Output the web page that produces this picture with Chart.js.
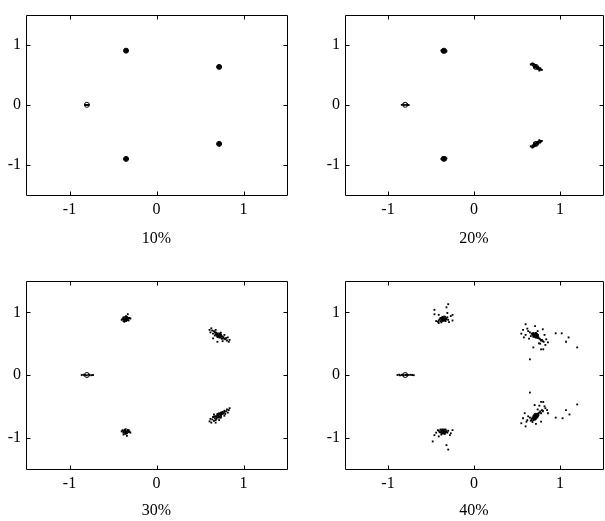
<!DOCTYPE html>
<html>
<head>
<meta charset="utf-8">
<script src="https://cdn.jsdelivr.net/npm/chart.js@4/dist/chart.umd.min.js"></script>
<style>
  body { margin: 0; background: #fff; }
  #wrap { position: relative; width: 605px; height: 521px; overflow: hidden; background: #fff; }
  canvas { position: absolute; }
</style>
</head>
<body>
<div id="wrap">
  <canvas id="c10" width="300" height="260" style="left:0;top:0"></canvas>
  <canvas id="c20" width="308" height="260" style="left:300px;top:0"></canvas>
  <canvas id="c30" width="300" height="261" style="left:0;top:260px"></canvas>
  <canvas id="c40" width="308" height="261" style="left:300px;top:260px"></canvas>
</div>
<script>
const FONT = { family: "'Liberation Serif', 'Times New Roman', serif", size: 16 };
const AXIS_MIN = -1.5;
const AXIS_MAX = 1.5;
const TICK_VALUES = [-1, 0, 1];
const TITLES = ['10%', '20%', '30%', '40%'];

// ideal constellation points
const idealX = [-0.8, -0.35, -0.35, 0.72, 0.72];
const idealY = [0, 0.9, -0.9, 0.63, -0.65];

// received samples, [x, y]
const samples10 = [
    [-0.82, 0], [-0.81, 0], [-0.80, 0], [-0.79, 0], [-0.78, 0],
    [-0.35, 0.9], [-0.37, 0.9], [-0.33, 0.9], [-0.35, 0.875], [-0.35, 0.925],
    [-0.362, 0.885], [-0.338, 0.885], [-0.362, 0.915], [-0.338, 0.915],
    [-0.35, -0.9], [-0.37, -0.9], [-0.33, -0.9], [-0.35, -0.875], [-0.35, -0.925],
    [-0.362, -0.885], [-0.338, -0.885], [-0.362, -0.915], [-0.338, -0.915],
    [0.72, 0.63], [0.70, 0.63], [0.74, 0.63], [0.72, 0.605], [0.72, 0.655],
    [0.708, 0.615], [0.732, 0.615], [0.708, 0.645], [0.732, 0.645],
    [0.72, -0.65], [0.70, -0.65], [0.74, -0.65], [0.72, -0.625], [0.72, -0.675],
    [0.708, -0.635], [0.732, -0.635], [0.708, -0.665], [0.732, -0.665]
];

const samples20 = [
    [-0.84, 0], [-0.82, 0.005], [-0.81, -0.005], [-0.79, 0], [-0.78, 0.005], [-0.77, 0], [-0.76, -0.003],
    [-0.38, 0.9], [-0.37, 0.88], [-0.37, 0.91], [-0.36, 0.87], [-0.36, 0.9], [-0.36, 0.92], [-0.35, 0.88], [-0.35, 0.91],
    [-0.34, 0.87], [-0.34, 0.9], [-0.34, 0.92], [-0.33, 0.88], [-0.33, 0.91], [-0.32, 0.89], [-0.35, 0.89], [-0.37, 0.89],
    [-0.38, -0.9], [-0.37, -0.88], [-0.37, -0.91], [-0.36, -0.87], [-0.36, -0.9], [-0.36, -0.92], [-0.35, -0.88], [-0.35, -0.91],
    [-0.34, -0.87], [-0.34, -0.9], [-0.34, -0.92], [-0.33, -0.88], [-0.33, -0.91], [-0.32, -0.89], [-0.35, -0.89], [-0.37, -0.89],
    [0.67, 0.68], [0.68, 0.66], [0.68, 0.69], [0.69, 0.65], [0.69, 0.68], [0.70, 0.64], [0.70, 0.67], [0.71, 0.63], [0.71, 0.66],
    [0.72, 0.62], [0.72, 0.65], [0.73, 0.61], [0.73, 0.64], [0.74, 0.60], [0.74, 0.63], [0.75, 0.59], [0.75, 0.62], [0.76, 0.60],
    [0.77, 0.58], [0.77, 0.61], [0.78, 0.59], [0.70, 0.62], [0.72, 0.63], [0.74, 0.61], [0.76, 0.57], [0.66, 0.67], [0.79, 0.58],
    [0.67, -0.70], [0.68, -0.68], [0.68, -0.71], [0.69, -0.67], [0.69, -0.70], [0.70, -0.66], [0.70, -0.69], [0.71, -0.65], [0.71, -0.68],
    [0.72, -0.64], [0.72, -0.67], [0.73, -0.63], [0.73, -0.66], [0.74, -0.62], [0.74, -0.65], [0.75, -0.61], [0.75, -0.64], [0.76, -0.62],
    [0.77, -0.60], [0.77, -0.63], [0.78, -0.61], [0.70, -0.64], [0.72, -0.65], [0.74, -0.63], [0.76, -0.59], [0.66, -0.69], [0.79, -0.60]
];

const samples30 = [
    [-0.86, 0], [-0.84, 0.005], [-0.83, -0.005], [-0.82, 0], [-0.80, -0.005], [-0.78, 0.005], [-0.77, 0], [-0.75, -0.004], [-0.73, 0],
    [-0.40, 0.88], [-0.39, 0.9], [-0.38, 0.86], [-0.38, 0.92], [-0.37, 0.89], [-0.36, 0.91], [-0.36, 0.87], [-0.35, 0.9], [-0.34, 0.88],
    [-0.34, 0.92], [-0.33, 0.9], [-0.32, 0.87], [-0.31, 0.91], [-0.30, 0.9], [-0.37, 0.85], [-0.33, 0.97], [-0.35, 0.94],
    [-0.38, 0.89], [-0.36, 0.89], [-0.34, 0.9], [-0.32, 0.91], [-0.35, 0.86],
    [-0.40, -0.9], [-0.39, -0.88], [-0.38, -0.92], [-0.37, -0.89], [-0.36, -0.91], [-0.36, -0.87], [-0.35, -0.9], [-0.34, -0.92],
    [-0.33, -0.89], [-0.32, -0.91], [-0.31, -0.9], [-0.30, -0.92], [-0.38, -0.95], [-0.34, -0.97], [-0.36, -0.94],
    [-0.38, -0.9], [-0.36, -0.89], [-0.34, -0.9], [-0.32, -0.88], [-0.35, -0.93],
    [0.61, 0.72], [0.63, 0.745], [0.62, 0.68], [0.64, 0.71], [0.66, 0.70], [0.65, 0.66], [0.67, 0.68], [0.68, 0.65], [0.69, 0.67],
    [0.70, 0.64], [0.70, 0.61], [0.71, 0.63], [0.72, 0.66], [0.73, 0.62], [0.74, 0.675], [0.74, 0.6], [0.75, 0.62], [0.76, 0.58],
    [0.77, 0.6], [0.78, 0.64], [0.79, 0.57], [0.80, 0.59], [0.81, 0.55], [0.82, 0.6], [0.83, 0.53], [0.84, 0.56], [0.65, 0.585],
    [0.70, 0.53], [0.76, 0.54], [0.68, 0.72],
    [0.69, 0.64], [0.70, 0.66], [0.71, 0.62], [0.72, 0.64], [0.73, 0.60], [0.72, 0.61], [0.74, 0.64], [0.75, 0.58], [0.76, 0.61],
    [0.78, 0.58], [0.68, 0.68], [0.67, 0.63],
    [0.61, -0.74], [0.62, -0.70], [0.63, -0.76], [0.64, -0.71], [0.65, -0.67], [0.66, -0.73], [0.67, -0.69], [0.68, -0.66], [0.69, -0.70],
    [0.70, -0.65], [0.70, -0.62], [0.71, -0.67], [0.72, -0.63], [0.73, -0.66], [0.74, -0.6], [0.74, -0.68], [0.75, -0.62], [0.76, -0.59],
    [0.77, -0.61], [0.78, -0.57], [0.79, -0.62], [0.80, -0.58], [0.81, -0.55], [0.82, -0.6], [0.83, -0.56], [0.84, -0.53], [0.66, -0.63],
    [0.72, -0.72], [0.78, -0.65], [0.68, -0.76],
    [0.69, -0.68], [0.70, -0.66], [0.71, -0.64], [0.72, -0.67], [0.73, -0.63], [0.72, -0.61], [0.74, -0.64], [0.75, -0.6], [0.76, -0.62],
    [0.78, -0.59], [0.68, -0.72], [0.67, -0.66]
];

const samples40 = [
    [-0.89, 0], [-0.87, 0.005], [-0.86, -0.005], [-0.84, 0], [-0.83, 0.006], [-0.82, -0.006], [-0.80, 0], [-0.79, 0.005],
    [-0.78, -0.005], [-0.76, 0], [-0.74, 0.004], [-0.72, 0], [-0.70, -0.003],
    [-0.41, 0.87], [-0.40, 0.89], [-0.39, 0.86], [-0.39, 0.91], [-0.38, 0.88], [-0.37, 0.90], [-0.37, 0.86], [-0.36, 0.89],
    [-0.36, 0.92], [-0.35, 0.87], [-0.35, 0.9], [-0.34, 0.88], [-0.34, 0.93], [-0.33, 0.86], [-0.33, 0.9], [-0.32, 0.89],
    [-0.31, 0.92], [-0.30, 0.88], [-0.42, 0.85], [-0.38, 0.84], [-0.38, 0.9], [-0.36, 0.88], [-0.34, 0.9], [-0.37, 0.92],
    [-0.30, 1.13], [-0.32, 1.08], [-0.46, 0.97], [-0.41, 0.96], [-0.31, 0.99], [-0.27, 0.94], [-0.25, 0.87], [-0.44, 0.86],
    [-0.41, 0.83], [-0.29, 0.845], [-0.46, 1.04], [-0.25, 0.96],
    [-0.41, -0.89], [-0.40, -0.91], [-0.39, -0.87], [-0.39, -0.92], [-0.38, -0.89], [-0.37, -0.91], [-0.37, -0.87], [-0.36, -0.9],
    [-0.36, -0.93], [-0.35, -0.88], [-0.35, -0.91], [-0.34, -0.89], [-0.34, -0.94], [-0.33, -0.87], [-0.33, -0.91], [-0.32, -0.9],
    [-0.31, -0.92], [-0.30, -0.89], [-0.42, -0.88], [-0.38, -0.95], [-0.38, -0.9], [-0.36, -0.88], [-0.34, -0.91], [-0.37, -0.93],
    [-0.46, -0.96], [-0.44, -0.92], [-0.27, -0.93], [-0.25, -0.88], [-0.48, -1.06], [-0.32, -1.12], [-0.30, -1.19], [-0.41, -0.98],
    [-0.28, -0.96],
    [0.67, 0.66], [0.68, 0.64], [0.69, 0.67], [0.69, 0.63], [0.70, 0.65], [0.70, 0.62], [0.71, 0.66], [0.71, 0.64], [0.72, 0.63],
    [0.72, 0.67], [0.73, 0.61], [0.73, 0.65], [0.74, 0.62], [0.75, 0.6], [0.76, 0.58], [0.77, 0.57], [0.78, 0.55], [0.79, 0.56],
    [0.80, 0.54], [0.66, 0.62], [0.65, 0.68], [0.70, 0.64], [0.71, 0.65], [0.69, 0.65], [0.72, 0.62], [0.70, 0.66], [0.68, 0.66],
    [0.73, 0.63], [0.71, 0.61], [0.74, 0.64], [0.72, 0.60], [0.69, 0.61], [0.74, 0.59],
    [0.60, 0.81], [0.71, 0.78], [0.80, 0.73], [0.57, 0.72], [0.55, 0.66], [0.58, 0.60], [0.82, 0.64], [0.84, 0.57], [0.81, 0.53],
    [0.86, 0.52], [0.755, 0.505], [0.78, 0.41], [0.805, 0.41], [0.69, 0.44], [0.65, 0.25], [0.95, 0.665], [1.02, 0.665], [1.10, 0.60],
    [1.07, 0.53], [1.20, 0.44], [0.62, 0.74], [0.63, 0.70], [0.64, 0.58], [0.74, 0.70], [0.60, 0.64], [0.77, 0.50], [0.83, 0.48],
    [0.67, -0.70], [0.68, -0.68], [0.69, -0.72], [0.69, -0.66], [0.70, -0.69], [0.70, -0.65], [0.71, -0.67], [0.72, -0.70], [0.72, -0.64],
    [0.73, -0.66], [0.74, -0.62], [0.75, -0.64], [0.76, -0.6], [0.77, -0.58], [0.78, -0.61], [0.79, -0.56], [0.80, -0.58], [0.66, -0.73],
    [0.65, -0.68], [0.68, -0.75], [0.70, -0.67], [0.71, -0.69], [0.69, -0.69], [0.72, -0.66], [0.71, -0.71], [0.73, -0.68],
    [0.73, -0.64], [0.74, -0.66], [0.71, -0.63], [0.70, -0.71], [0.75, -0.61], [0.67, -0.72],
    [0.65, -0.28], [0.78, -0.43], [0.805, -0.43], [0.76, -0.49], [0.83, -0.53], [0.80, -0.57], [0.86, -0.61], [0.705, -0.48], [0.59, -0.61],
    [0.57, -0.69], [0.61, -0.745], [0.55, -0.77], [0.60, -0.82], [0.72, -0.78], [0.95, -0.68], [1.03, -0.69], [1.07, -0.56], [1.11, -0.63],
    [1.20, -0.47], [0.78, -0.745], [0.63, -0.66], [0.62, -0.72], [0.74, -0.55], [0.82, -0.50], [0.85, -0.56]
];

// box around the plot with short inward ticks on all four sides
const framePlugin = {
    id: 'frame',
    afterDatasetsDraw(chart) {
        const { ctx, chartArea: a, scales: { x, y } } = chart;
        const l = Math.round(a.left) + 0.5, r = Math.round(a.right) + 0.5;
        const t = Math.round(a.top) + 0.5, b = Math.round(a.bottom) + 0.5;
        ctx.save();
        ctx.strokeStyle = '#000';
        ctx.lineWidth = 1;
        ctx.beginPath();
        ctx.rect(l, t, r - l, b - t);
        x.ticks.forEach(tk => {
            const px = Math.round(x.getPixelForValue(tk.value)) + 0.5;
            ctx.moveTo(px, b); ctx.lineTo(px, b - 4);
            ctx.moveTo(px, t); ctx.lineTo(px, t + 4);
        });
        y.ticks.forEach(tk => {
            const py = Math.round(y.getPixelForValue(tk.value)) + 0.5;
            ctx.moveTo(l, py); ctx.lineTo(l + 4, py);
            ctx.moveTo(r, py); ctx.lineTo(r - 4, py);
        });
        ctx.stroke();
        ctx.restore();
    }
};

function toPoints(list) {
    return list.map(p => ({ x: p[0], y: p[1] }));
}

function axis(extra) {
    return Object.assign({
        type: 'linear',
        min: AXIS_MIN,
        max: AXIS_MAX,
        grid: { display: false, drawTicks: false },
        border: { display: false },
        afterBuildTicks: s => { s.ticks = TICK_VALUES.map(v => ({ value: v })); },
        ticks: { color: '#000', font: FONT, padding: 5, callback: v => String(v) }
    }, extra);
}

function makeChart(id, samples, title, box) {
    const canvas = document.getElementById(id);
    const ideal = idealX.map((v, i) => ({ x: v, y: idealY[i] }));
    return new Chart(canvas.getContext('2d'), {
        type: 'scatter',
        data: {
            datasets: [
                {
                    data: toPoints(samples),
                    pointStyle: 'rect',
                    pointRadius: 1.3,
                    borderWidth: 0,
                    backgroundColor: '#000'
                },
                {
                    data: ideal,
                    pointStyle: 'circle',
                    pointRadius: 2.5,
                    borderWidth: 1,
                    borderColor: '#000',
                    backgroundColor: 'rgba(0,0,0,0)'
                }
            ]
        },
        options: {
            animation: false,
            responsive: false,
            events: [],
            layout: {
                padding: {
                    left: 0,
                    top: box.top,
                    right: canvas.width - box.right,
                    bottom: 0
                }
            },
            plugins: { legend: { display: false }, tooltip: { enabled: false } },
            scales: {
                x: axis({
                    position: 'bottom',
                    title: { display: true, text: title, color: '#000', font: FONT, padding: { top: 0, bottom: box.titlePad } },
                    afterFit: s => { s.height = canvas.height - box.bottom; }
                }),
                y: axis({
                    position: 'left',
                    afterFit: s => { s.width = box.left; }
                })
            }
        },
        plugins: [framePlugin]
    });
}

makeChart('c10', samples10, TITLES[0], { left: 26, right: 287, top: 7, bottom: 195, titlePad: 12 });
makeChart('c20', samples20, TITLES[1], { left: 45, right: 307, top: 7, bottom: 195, titlePad: 12 });
makeChart('c30', samples30, TITLES[2], { left: 26, right: 287, top: 21, bottom: 209, titlePad: 1 });
makeChart('c40', samples40, TITLES[3], { left: 45, right: 307, top: 21, bottom: 209, titlePad: 1 });
</script>
</body>
</html>
